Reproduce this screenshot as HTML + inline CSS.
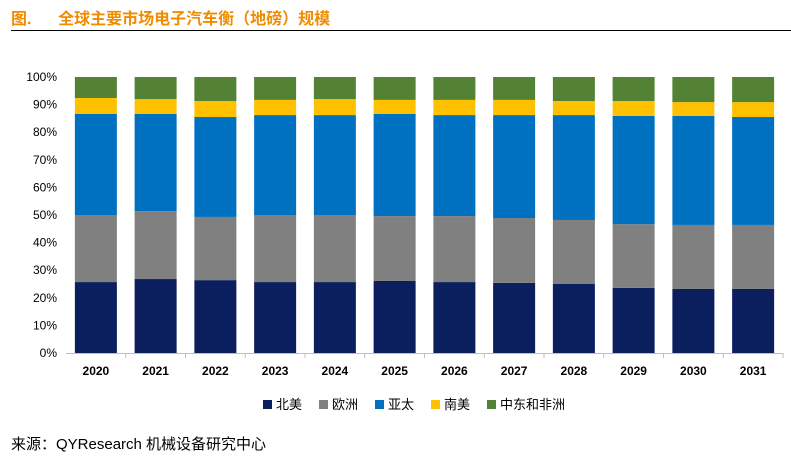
<!DOCTYPE html>
<html><head><meta charset="utf-8"><style>
body{margin:0;width:791px;height:459px;background:#fff;font-family:"Liberation Sans","Noto Sans CJK SC",sans-serif;overflow:hidden;position:relative}
.title{position:absolute;left:11px;top:5px;font-size:16px;font-weight:bold;color:#f08c00}
.rule{position:absolute;left:11px;top:30px;width:780px;height:1px;background:#000}
.src{position:absolute;left:11px;top:433px;font-size:15px;color:#000}
</style></head><body>
<div class="title">图.&nbsp;&nbsp;&nbsp;&nbsp;&nbsp;&nbsp;全球主要市场电子汽车衡（地磅）规模</div>
<div class="rule"></div>
<svg id="chart" width="791" height="459" style="position:absolute;left:0;top:0"></svg>
<div class="src">来源：QYResearch 机械设备研究中心</div>
<script>
const categories=["2020","2021","2022","2023","2024","2025","2026","2027","2028","2029","2030","2031"];
const northAmerica=[25.7,26.8,26.4,25.7,25.7,26.1,25.7,25.4,25.0,23.6,23.2,23.2];
const europe=[24.3,24.6,22.9,24.3,24.3,23.5,23.9,23.5,23.2,23.1,23.2,23.2];
const asiaPacific=[36.6,35.2,36.2,36.2,36.2,37.0,36.6,37.3,38.0,39.2,39.5,39.1];
const southAmerica=[5.8,5.4,5.8,5.5,5.8,5.1,5.5,5.5,5.1,5.4,5.0,5.4];
const seriesNames=["北美","欧洲","亚太","南美","中东和非洲"];
const seriesColors=["#0b1f5e","#808080","#0070c0","#ffc000","#548235"];
const yTicks=[0,10,20,30,40,50,60,70,80,90,100];
const mea=categories.map((c,i)=>100-northAmerica[i]-europe[i]-asiaPacific[i]-southAmerica[i]);
const allSeries=[northAmerica,europe,asiaPacific,southAmerica,mea];
const NS="http://www.w3.org/2000/svg";
const svg=document.getElementById('chart');
const x0=66,plotW=717,y0=353,plotH=276;
const band=plotW/categories.length,barW=42;
const y=v=>y0-v/100*plotH;
const xc=i=>x0+band*(i+0.5);
function mk(t,a){const e=document.createElementNS(NS,t);for(const k in a)e.setAttribute(k,a[k]);svg.appendChild(e);return e;}
yTicks.forEach(t=>{
 const tx=mk('text',{x:57,y:y(t)+4,'text-anchor':'end','font-size':12,fill:'#000'});
 tx.textContent=t+'%';
 
 
});
const ax=mk('line',{x1:x0,x2:x0+plotW,y1:y0+0.5,y2:y0+0.5,stroke:'#bfbfbf'});


categories.forEach((c,i)=>{
 let acc=0;
 allSeries.forEach((s,k)=>{
  const r=mk('rect',{x:xc(i)-barW/2,y:y(acc+s[i]),width:barW,height:y(acc)-y(acc+s[i]),fill:seriesColors[k]});
  
  
  acc+=s[i];
 });
 const tk=mk('line',{x1:x0+band*(i+1),x2:x0+band*(i+1),y1:y0,y2:y0+5,stroke:'#bfbfbf'});
 
 
 const t=mk('text',{x:xc(i),y:375,'text-anchor':'middle','font-size':12,'font-weight':'bold',fill:'#000'});
 t.textContent=c;
 
 
});
const lx=[263,319,375,431,487];
seriesNames.forEach((n,k)=>{
 const r=mk('rect',{x:lx[k],y:400,width:9,height:9,fill:seriesColors[k]});
 
 
 const t=mk('text',{x:lx[k]+13,y:409,'font-size':13,fill:'#000'});
 t.textContent=n;
 
 
});
</script>
</body></html>
